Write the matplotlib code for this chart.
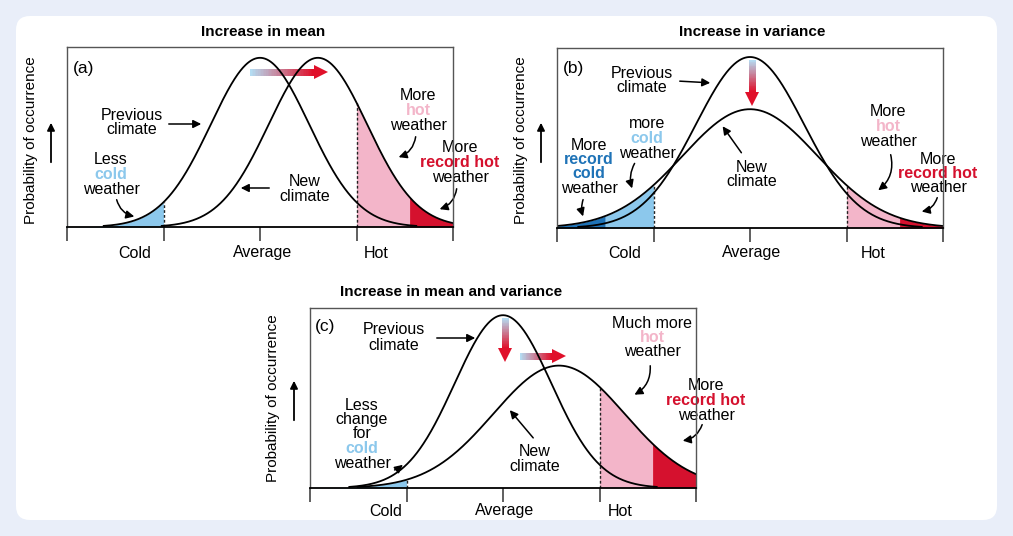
import matplotlib
matplotlib.use("Agg")
import matplotlib.pyplot as plt
import numpy as np
from matplotlib.patches import FancyBboxPatch, Polygon, FancyArrowPatch
from matplotlib.colors import to_rgb

plt.rcParams['font.family'] = ['Liberation Sans', 'DejaVu Sans']

W, H = 1013, 536
LBLUE, DBLUE, PINK, RED = "#8cc8ec", "#1f73b7", "#f3b5c9", "#d5112e"

# curve parameters per panel: (peak, mean, sigma)
prev_a = (0.94, 2.0, 0.51)
new_a = (0.94, 2.6, 0.51)
prev_b = (0.95, 2.0, 0.56)
new_b = (0.66, 2.0, 0.70)
prev_c = (0.96, 2.0, 0.5)
new_c = (0.68, 2.58, 0.68)

# shaded zones (x ranges in data units)
cold_zones = {"a": [(0.0, 1.0, LBLUE)], "b": [(0.0, 0.5, DBLUE), (0.5, 1.0, LBLUE)],
              "c": [(0.0, 1.0, LBLUE)]}
hot_zones = {"a": [(3.0, 3.55, PINK), (3.55, 4.0, RED)],
             "b": [(3.0, 3.55, PINK), (3.55, 4.0, RED)],
             "c": [(3.0, 3.55, PINK), (3.55, 4.0, RED)]}

fig = plt.figure(figsize=(W / 100, H / 100), dpi=100)
fig.patch.set_facecolor("#e9eef9")
ov = fig.add_axes([0, 0, 1, 1], zorder=0)
ov.set_xlim(0, W); ov.set_ylim(H, 0); ov.axis("off")
ov.add_patch(FancyBboxPatch((16, 16), W - 32, H - 32, boxstyle="round,pad=0,rounding_size=14",
                            fc="white", ec="none"))


def gauss(x, p):
    a, m, s = p
    return a * np.exp(-(x - m) ** 2 / (2 * s ** 2))


def panel(x0, y0, key, prev, new, cold_curve, hot_curve):
    ax = fig.add_axes([x0 / W, 1 - (y0 + 180) / H, 386 / W, 180 / H], zorder=2)
    ax.patch.set_alpha(0)
    x = np.linspace(0, 4, 600)
    ax.set_xlim(0, 4); ax.set_ylim(0, 1)
    for lo, hi, c in cold_zones[key]:
        xs = np.linspace(lo, hi, 100)
        ax.fill_between(xs, 0, gauss(xs, cold_curve), color=c, lw=0)
    for lo, hi, c in hot_zones[key]:
        xs = np.linspace(lo, hi, 100)
        ax.fill_between(xs, 0, gauss(xs, hot_curve), color=c, lw=0)
    ax.plot([1, 1], [0, gauss(1.0, cold_curve)], color="#222", lw=1, ls=(0, (2, 1.5)))
    ax.plot([3, 3], [0, gauss(3.0, hot_curve)], color="#222", lw=1, ls=(0, (2, 1.5)))
    for p in (prev, new):
        y = gauss(x, p)
        m = y > 0.006
        ax.plot(x[m], y[m], color="black", lw=1.3)
    for s in ("top", "right", "left"):
        ax.spines[s].set_color("#555"); ax.spines[s].set_linewidth(1)
    ax.spines["bottom"].set_linewidth(1.3)
    ax.set_yticks([])
    ax.set_xticks([0, 1, 2, 3, 4])
    ax.set_xticklabels([])
    ax.tick_params(axis="x", direction="out", length=10, width=1.2, color="#444")
    return ax


panel(67, 47, "a", prev_a, new_a, prev_a, new_a)
panel(557, 48, "b", prev_b, new_b, new_b, new_b)
panel(310, 308, "c", prev_c, new_c, new_c, new_c)

FS = 11.5


def T(x, y, s, c="black", bold=False, fs=FS, ha="center", **kw):
    ov.text(x, y, s, color=c, fontsize=fs, ha=ha, va="center",
            fontweight="bold" if bold else "normal", zorder=5, **kw)


def stack(x, y, lines, dy=14.5):
    for i, item in enumerate(lines):
        if isinstance(item, tuple):
            T(x, y + i * dy, item[0], c=item[1], bold=True)
        else:
            T(x, y + i * dy, item)


def arr(x1, y1, x2, y2, rad=0.0):
    ov.add_patch(FancyArrowPatch((x1, y1), (x2, y2), arrowstyle="-|>", mutation_scale=12,
                                 connectionstyle=f"arc3,rad={rad}", color="black", lw=1.1, zorder=6))


def grad_arrow(x1, y1, x2, y2, width=7, head=14, hl=14):
    c0, c1 = np.array(to_rgb("#b4dcf2")), np.array(to_rgb("#e0102a"))
    d = np.array([x2 - x1, y2 - y1], float); L = np.hypot(*d); u = d / L; n = np.array([-u[1], u[0]])
    body = L - hl
    N = 40
    for i in range(N):
        a, b = i / N * body, (i + 1.05) / N * body
        p0 = np.array([x1, y1]) + u * a; p1 = np.array([x1, y1]) + u * b
        col = c0 + (c1 - c0) * (i / (N - 1))
        ov.add_patch(Polygon([p0 + n * width / 2, p1 + n * width / 2, p1 - n * width / 2, p0 - n * width / 2],
                             fc=col, ec="none", zorder=7))
    base = np.array([x1, y1]) + u * body
    ov.add_patch(Polygon([base + n * head / 2, np.array([x2, y2]), base - n * head / 2],
                         fc=c1, ec="none", zorder=7))


# titles
T(263, 32, "Increase in mean", bold=True, fs=11)
T(752, 32, "Increase in variance", bold=True, fs=11)
T(451, 292, "Increase in mean and variance", bold=True, fs=11)

# y labels and arrows
for xl, xa, yc in ((31, 51, 140), (521, 541, 140), (273, 294, 398)):
    T(xl, yc, "Probability of occurrence", rotation=90, fs=11)
    ov.annotate("", xy=(xa, yc - 20), xytext=(xa, yc + 25),
                arrowprops=dict(arrowstyle="-|>", color="black", lw=1.3, mutation_scale=11))

# x labels
for xs, y in (((135, 263, 376), 253), ((625, 752, 873), 253), ((386, 505, 620), 511)):
    for xx, lab in zip(xs, ("Cold", "Average", "Hot")):
        T(xx, y, lab)

# panel (a)
T(73, 68, "(a)", fs=12.5, ha="left")
stack(132, 115, ["Previous", "climate"])
arr(166, 124, 204, 124)
stack(111, 160, ["Less", ("cold", LBLUE), "weather"])
arr(116, 197, 137, 217, rad=0.35)
stack(305, 182, ["New", "climate"])
arr(272, 188, 238, 188)
stack(418, 96, ["More", ("hot", PINK), "weather"])
arr(416, 134, 396, 158, rad=-0.35)
stack(460, 148, ["More", ("record hot", RED), "weather"])
arr(457, 186, 437, 210, rad=-0.35)
grad_arrow(250, 72, 328, 72)

# panel (b)
T(563, 68, "(b)", fs=12.5, ha="left")
stack(642, 73, ["Previous", "climate"])
arr(677, 81, 713, 83)
grad_arrow(752, 60, 752, 106)
stack(752, 167, ["New", "climate"])
arr(743, 155, 721, 124)
stack(647, 124, ["more", ("cold", LBLUE), "weather"])
arr(636, 161, 633, 191, rad=0.25)
stack(589, 145, ["More", ("record", DBLUE), ("cold", DBLUE), "weather"])
arr(584, 197, 584, 219, rad=0.2)
stack(888, 112, ["More", ("hot", PINK), "weather"])
arr(890, 152, 876, 192, rad=-0.35)
stack(938, 159, ["More", ("record hot", RED), "weather"])
arr(938, 195, 919, 212, rad=-0.35)

# panel (c)
T(315, 327, "(c)", fs=12.5, ha="left")
stack(394, 330, ["Previous", "climate"], dy=15)
arr(434, 338, 478, 338)
grad_arrow(505, 318, 505, 362)
grad_arrow(520, 356, 566, 356)
stack(652, 323, ["Much more", ("hot", PINK), "weather"])
arr(650, 363, 632, 396, rad=-0.35)
stack(706, 386, ["More", ("record hot", RED), "weather"])
arr(703, 422, 680, 441, rad=-0.35)
stack(535, 452, ["New", "climate"])
arr(535, 440, 508, 408)
stack(362, 405, ["Less", "change", "for", ("cold", LBLUE), "weather"])
arr(392, 471, 405, 463, rad=0.1)

fig.savefig("out.png", dpi=100, facecolor=fig.get_facecolor())
